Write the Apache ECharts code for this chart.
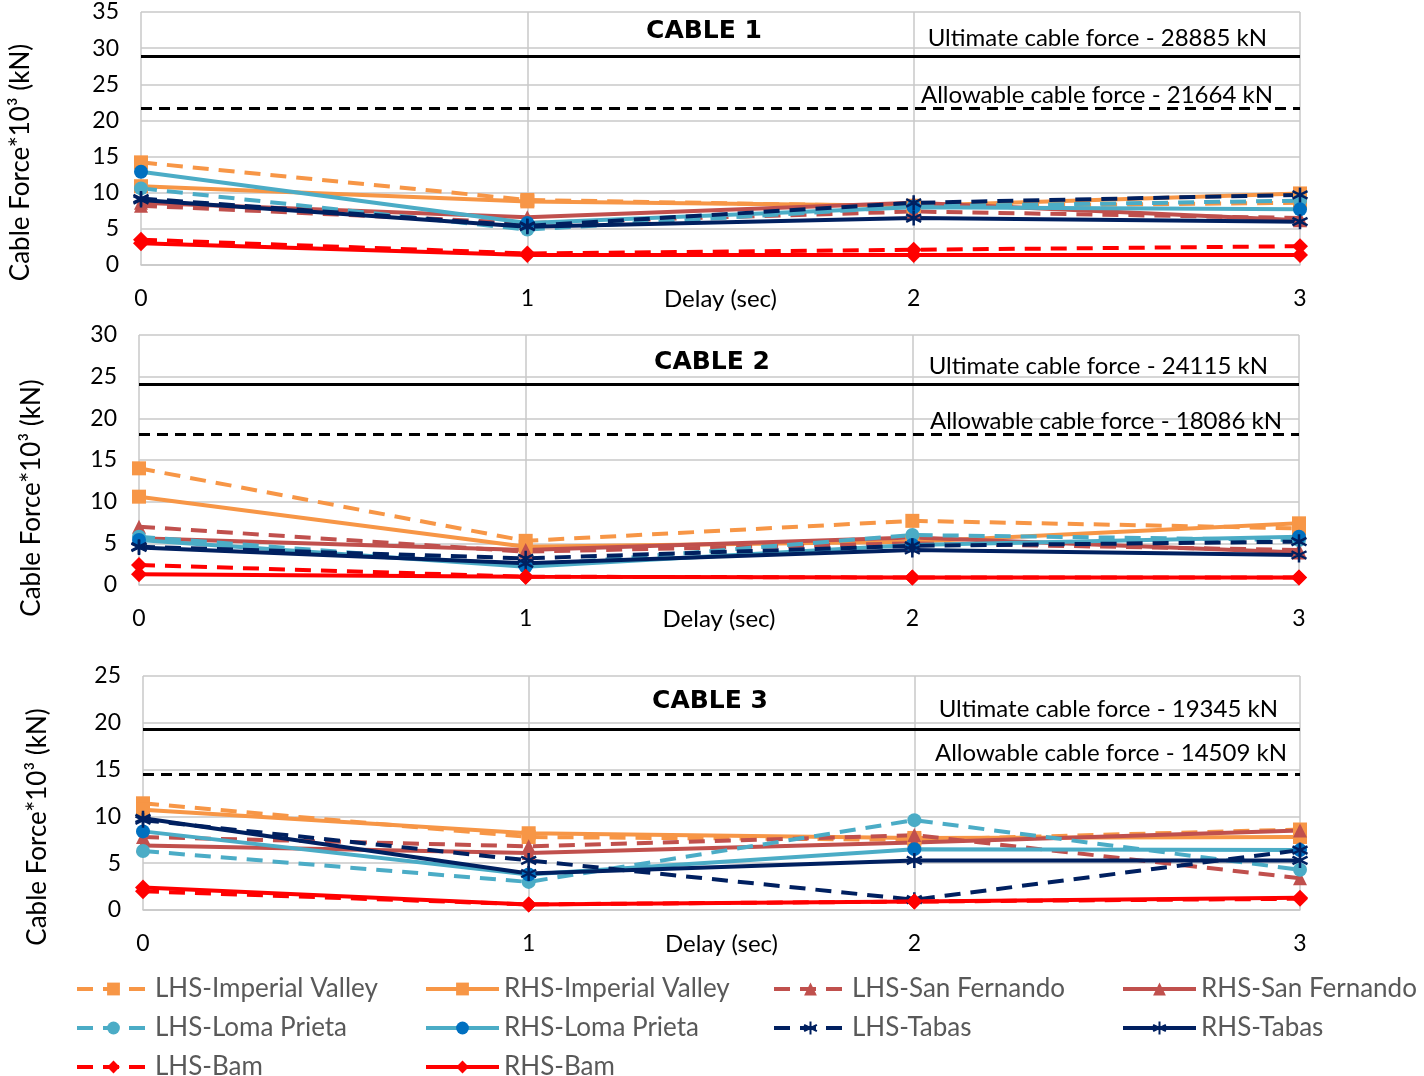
<!DOCTYPE html>
<html>
<head>
<meta charset="utf-8">
<title>Cable force vs delay</title>
<script src="https://cdn.jsdelivr.net/npm/echarts@6/dist/echarts.min.js"></script>
<style>
  html, body { margin: 0; padding: 0; background: #fff; }
  #chart { width: 1424px; height: 1076px; }
</style>
</head>
<body>
<div id="chart"></div>
<script>
// x categories (delay in sec)
const delays = ['0', '1', '2', '3'];

const seriesNames = [
    'LHS-Imperial Valley', 'RHS-Imperial Valley',
    'LHS-San Fernando', 'RHS-San Fernando',
    'LHS-Loma Prieta', 'RHS-Loma Prieta',
    'LHS-Tabas', 'RHS-Tabas',
    'LHS-Bam', 'RHS-Bam'
];

// cable force *10^3 kN, one row per series (same order as seriesNames)
const cable1Values = [
    [14.2, 9.0, 8.1, 8.6],
    [10.9, 8.8, 8.2, 9.9],
    [8.2, 5.8, 7.4, 6.5],
    [8.6, 6.6, 8.6, 6.2],
    [10.6, 4.9, 8.1, 8.9],
    [12.9, 5.8, 8.0, 7.7],
    [9.2, 5.4, 8.6, 9.7],
    [9.0, 5.3, 6.5, 6.0],
    [3.5, 1.6, 2.1, 2.6],
    [3.0, 1.4, 1.4, 1.4]
];
const cable2Values = [
    [14.0, 5.3, 7.7, 6.8],
    [10.6, 4.6, 5.2, 7.4],
    [7.0, 4.0, 5.0, 4.2],
    [5.6, 4.2, 5.7, 3.9],
    [5.8, 2.3, 6.0, 5.4],
    [5.4, 2.2, 4.8, 5.8],
    [4.6, 3.2, 4.7, 5.2],
    [4.5, 2.6, 4.2, 3.6],
    [2.4, 1.0, 0.9, 0.9],
    [1.3, 1.0, 0.9, 0.9]
];
const cable3Values = [
    [11.4, 7.8, 7.5, 8.6],
    [10.7, 8.2, 7.7, 7.8],
    [7.8, 6.8, 8.0, 3.4],
    [6.9, 6.1, 7.2, 8.5],
    [6.3, 3.0, 9.6, 4.3],
    [8.4, 3.8, 6.5, 6.4],
    [9.6, 5.3, 1.1, 6.4],
    [9.8, 3.9, 5.3, 5.3],
    [2.0, 0.6, 0.9, 1.2],
    [2.4, 0.6, 0.9, 1.3]
];

const cableTitles = ['CABLE 1', 'CABLE 2', 'CABLE 3'];
const ultimateForce = [28885, 24115, 19345];   // kN
const allowableForce = [21664, 18086, 14509];  // kN
const yMax = [35, 30, 25];

// ---------- styles ----------
const FONT = 'Lato, "Open Sans", sans-serif';
const GRID_COLOR = '#c8c8c8';
const ASTERISK = 'path://M5,0L5,10M0.67,2.5L9.33,7.5M0.67,7.5L9.33,2.5';

const seriesStyles = [
    { color: '#F79646', marker: '#F79646', symbol: 'rect', dashed: true },
    { color: '#F79646', marker: '#F79646', symbol: 'rect', dashed: false },
    { color: '#C0504D', marker: '#C0504D', symbol: 'triangle', dashed: true },
    { color: '#C0504D', marker: '#C0504D', symbol: 'triangle', dashed: false },
    { color: '#4BACC6', marker: '#4BACC6', symbol: 'circle', dashed: true },
    { color: '#4BACC6', marker: '#0070C0', symbol: 'circle', dashed: false },
    { color: '#002060', marker: '#002060', symbol: ASTERISK, dashed: true },
    { color: '#002060', marker: '#002060', symbol: ASTERISK, dashed: false },
    { color: '#FF0000', marker: '#FF0000', symbol: 'diamond', dashed: true },
    { color: '#FF0000', marker: '#FF0000', symbol: 'diamond', dashed: false }
];

// plot areas of the three panels
const grids = [
    { left: 135, top: 12, width: 1165, height: 253 },
    { left: 139, top: 335, width: 1160, height: 250 },
    { left: 143, top: 676, width: 1157, height: 234 }
];
const yNameGap = [107, 94, 92];
const yNameShift = [48, 76, 68];
const titlePos = [{ x: 699, y: 14 }, { x: 707, y: 345 }, { x: 705, y: 684 }];
// label paddings [top, right, bottom, left] for ultimate / allowable texts
const ultPad = [[0, 33, 6, 0], [0, 31, 6, 0], [0, 22, 8, 0]];
const allPad = [[0, 27, 1, 0], [0, 17, 1, 0], [0, 13, 9, 0]];

const allValues = [cable1Values, cable2Values, cable3Values];

var myChart = echarts.init(document.getElementById('chart'));

var option = {
    animation: false,
    textStyle: { fontFamily: FONT },
    title: [],
    grid: grids,
    xAxis: [],
    yAxis: [],
    legend: [],
    series: []
};

for (let p = 0; p < 3; p++) {
    option.title.push({
        text: cableTitles[p],
        left: titlePos[p].x,
        top: titlePos[p].y,
        textAlign: 'center',
        textStyle: { fontFamily: '"DejaVu Sans", sans-serif', fontWeight: 'bold', fontSize: 25, color: '#000' }
    });

    option.xAxis.push({
        type: 'category',
        gridIndex: p,
        data: delays,
        boundaryGap: false,
        name: 'Delay (sec)',
        nameLocation: 'middle',
        nameGap: 22,
        nameMoveOverlap: false,
        nameTextStyle: { fontSize: 24, color: '#000', fontFamily: FONT },
        axisLine: { lineStyle: { color: GRID_COLOR, width: 1.5 } },
        axisTick: { show: false },
        axisLabel: { fontSize: 23, color: '#000', margin: 22, fontFamily: FONT },
        splitLine: { show: true, lineStyle: { color: GRID_COLOR, width: 1.5 } }
    });

    option.yAxis.push({
        type: 'value',
        gridIndex: p,
        min: 0,
        max: yMax[p],
        interval: 5,
        name: 'Cable Force*10³ (kN)',
        nameLocation: 'middle',
        nameGap: yNameGap[p],
        nameMoveOverlap: false,
        nameTextStyle: { fontSize: 26, color: '#000', fontFamily: FONT, padding: [0, yNameShift[p], 0, 0] },
        axisLine: { show: false },
        axisTick: { show: false },
        axisLabel: { fontSize: 23, color: '#000', margin: 22, fontFamily: FONT },
        splitLine: { lineStyle: { color: GRID_COLOR, width: 1.5 } }
    });

    // data series
    allValues[p].forEach(function (vals, i) {
        const st = seriesStyles[i];
        const isStar = st.symbol === ASTERISK;
        option.series.push({
            name: seriesNames[i],
            type: 'line',
            xAxisIndex: p,
            yAxisIndex: p,
            data: vals,
            symbol: st.symbol,
            symbolSize: isStar ? 15 : (st.symbol === 'diamond' ? 16 : 14),
            lineStyle: {
                color: st.color,
                width: 4,
                type: st.dashed ? [16, 10] : 'solid'
            },
            itemStyle: {
                color: st.marker,
                borderColor: st.marker,
                borderWidth: isStar ? 2.5 : 0
            },
            emphasis: { disabled: true }
        });
    });

    // ultimate / allowable reference lines
    option.series.push({
        type: 'line',
        xAxisIndex: p,
        yAxisIndex: p,
        data: [],
        silent: true,
        markLine: {
            silent: true,
            symbol: 'none',
            animation: false,
            data: [
                {
                    yAxis: ultimateForce[p] / 1000,
                    lineStyle: { color: '#000', width: 3, type: 'solid' },
                    label: {
                        position: 'insideEndTop',
                        distance: 0,
                        formatter: 'Ultimate cable force - ' + ultimateForce[p] + ' kN',
                        fontSize: 24, color: '#000', fontFamily: FONT,
                        padding: ultPad[p]
                    }
                },
                {
                    yAxis: allowableForce[p] / 1000,
                    lineStyle: { color: '#000', width: 3, type: [11, 7] },
                    label: {
                        position: 'insideEndTop',
                        distance: 0,
                        formatter: 'Allowable cable force - ' + allowableForce[p] + ' kN',
                        fontSize: 24, color: '#000', fontFamily: FONT,
                        padding: allPad[p]
                    }
                }
            ]
        }
    });
}

// legend: four columns
const legendCols = [
    { left: 75, names: [0, 4, 8] },
    { left: 424, names: [1, 5, 9] },
    { left: 772, names: [2, 6] },
    { left: 1121, names: [3, 7] }
];
legendCols.forEach(function (col) {
    option.legend.push({
        orient: 'vertical',
        left: col.left,
        top: 976,
        height: 110,
        padding: 0,
        itemWidth: 73,
        itemHeight: 16,
        itemGap: 13,
        selectedMode: false,
        lineStyle: { width: 4 },
        data: col.names.map(function (i) { return seriesNames[i]; }),
        textStyle: { fontSize: 26, color: '#595959', fontFamily: FONT, lineHeight: 24 }
    });
});

myChart.setOption(option);
</script>
</body>
</html>
